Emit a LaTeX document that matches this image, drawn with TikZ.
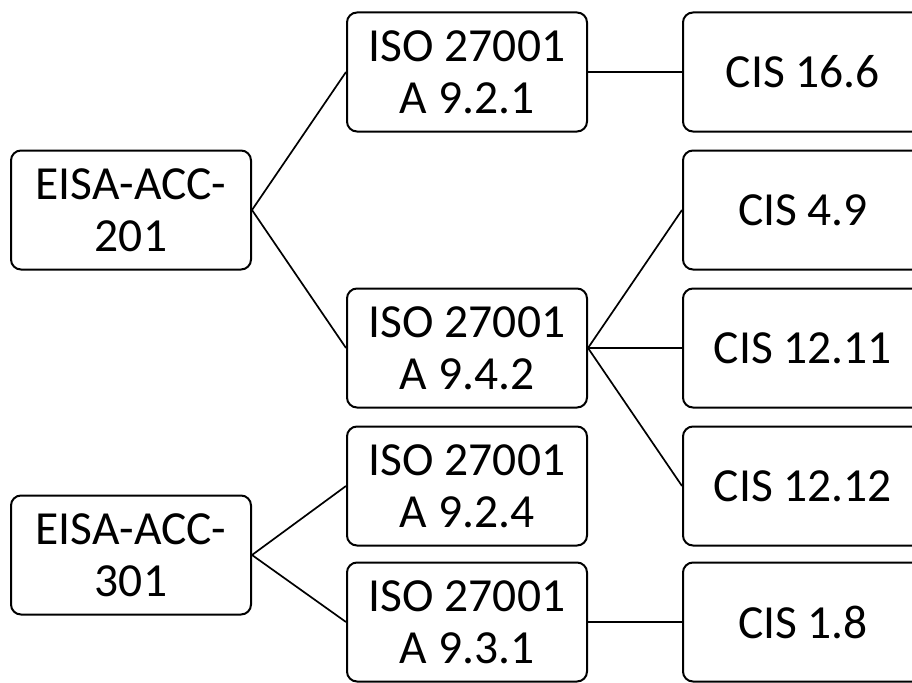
\documentclass[tikz,border=0pt]{standalone}
\usepackage{fontspec}
\setmainfont{Carlito}
\begin{document}
\begin{tikzpicture}[x=1pt,y=-1pt,
  box/.style={draw=black,line width=2pt,rounded corners=10pt,fill=white,
    minimum width=240pt,minimum height=119pt,inner sep=0pt,align=center,
    font=\fontsize{47.5}{52}\selectfont},
  link/.style={draw=black,line width=1.7pt}]
\useasboundingbox (0,0) rectangle (912,682);
\clip (0,0) rectangle (912,682);
\fill[white] (0,0) rectangle (912,682);
\node[box] (e201) at (131,210) {EISA-ACC-\\201};
\node[box] (e301) at (131,555) {EISA-ACC-\\301};
\node[box] (i921) at (467,72) {ISO 27001\\A 9.2.1};
\node[box] (i942) at (467,348) {ISO 27001\\A 9.4.2};
\node[box] (i924) at (467,486) {ISO 27001\\A 9.2.4};
\node[box] (i931) at (467,622) {ISO 27001\\A 9.3.1};
\node[box] (c166) at (803,72) {CIS 16.6};
\node[box] (c49) at (803,210) {CIS 4.9};
\node[box] (c1211) at (803,348) {CIS 12.11};
\node[box] (c1212) at (803,486) {CIS 12.12};
\node[box] (c18) at (803,622) {CIS 1.8};
\draw[link] (e201.east) -- (i921.west);
\draw[link] (e201.east) -- (i942.west);
\draw[link] (e301.east) -- (i924.west);
\draw[link] (e301.east) -- (i931.west);
\draw[link] (i921.east) -- (c166.west);
\draw[link] (i942.east) -- (c49.west);
\draw[link] (i942.east) -- (c1211.west);
\draw[link] (i942.east) -- (c1212.west);
\draw[link] (i931.east) -- (c18.west);
\end{tikzpicture}
\end{document}
